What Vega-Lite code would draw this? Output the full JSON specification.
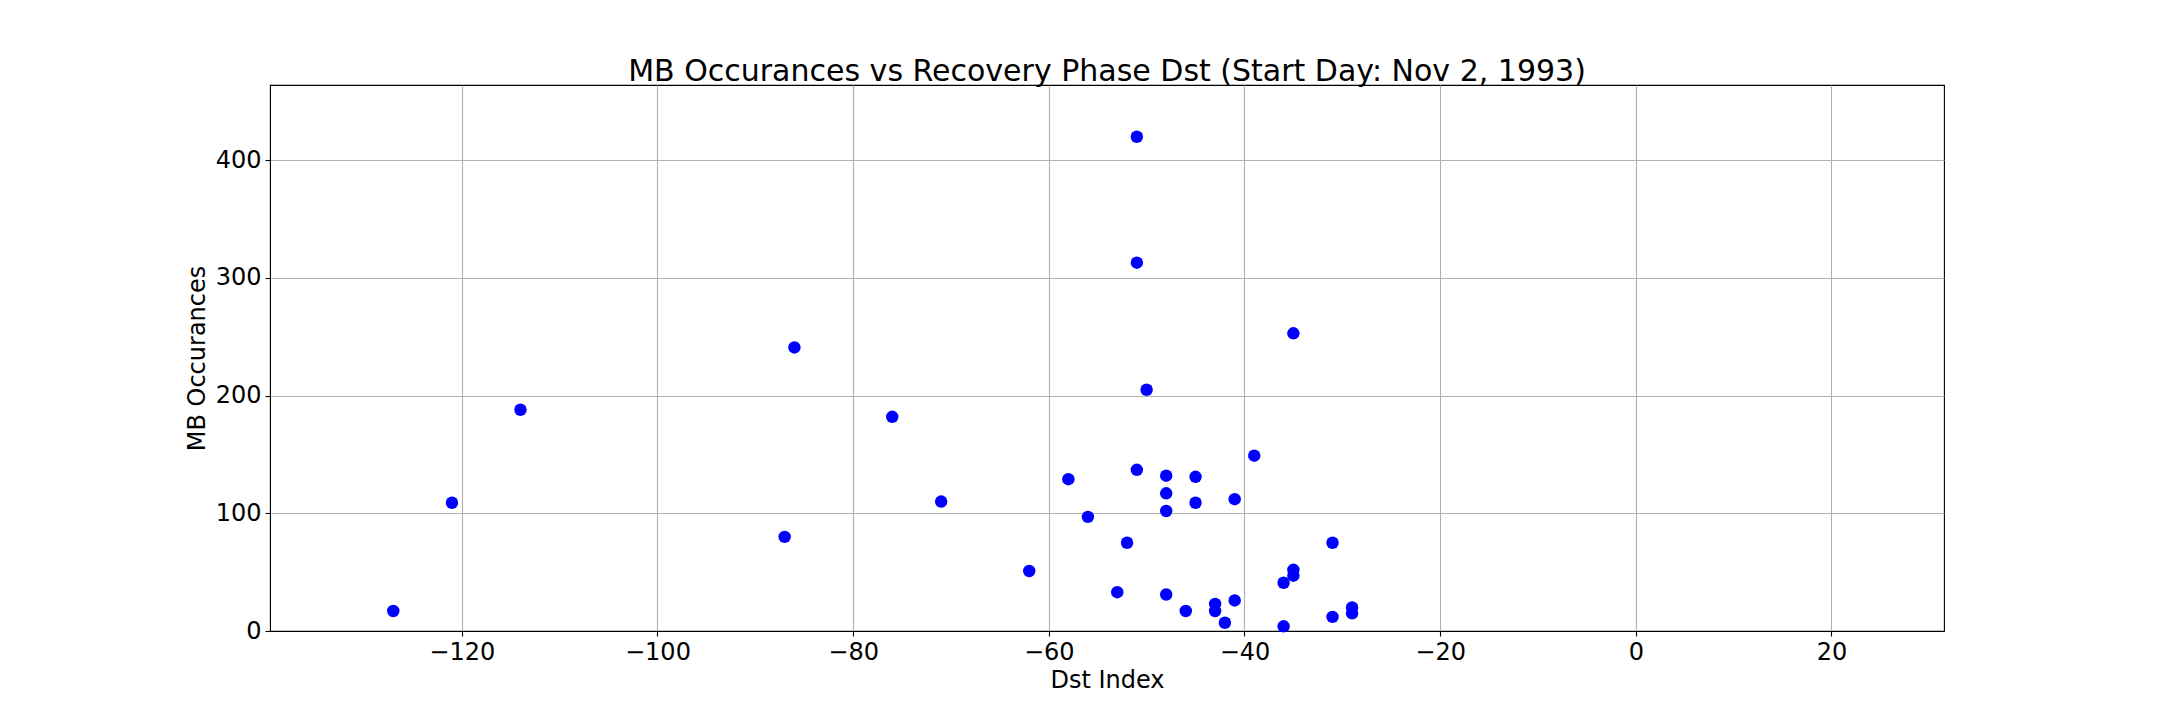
{
  "$schema": "https://vega.github.io/schema/vega-lite/v6.json",
  "autosize": {"type": "none"},
  "width": 1674,
  "height": 546,
  "padding": {"left": 270, "top": 85, "right": 216, "bottom": 89},
  "background": "white",
  "title": {
    "text": "MB Occurances vs Recovery Phase Dst (Start Day: Nov 2, 1993)",
    "font": "DejaVu Sans",
    "fontSize": 30,
    "fontWeight": "normal",
    "color": "black",
    "anchor": "middle",
    "baseline": "alphabetic",
    "offset": 10,
    "dy": 36
  },
  "config": {
    "view": {"stroke": "black", "strokeWidth": 1.1},
    "axis": {
      "labelFont": "DejaVu Sans",
      "titleFont": "DejaVu Sans",
      "labelFontSize": 24,
      "titleFontSize": 24,
      "titleFontWeight": "normal",
      "labelColor": "black",
      "titleColor": "black",
      "domainColor": "black",
      "tickColor": "black",
      "tickSize": 5,
      "tickWidth": 1.1,
      "gridColor": "#b0b0b0",
      "gridWidth": 1.1,
      "gridOpacity": 1,
      "labelPadding": 4
    }
  },
  "data": {
    "values": [
      {"dst": -127, "mb": 17},
      {"dst": -121, "mb": 109},
      {"dst": -114, "mb": 188},
      {"dst": -87, "mb": 80},
      {"dst": -86, "mb": 241},
      {"dst": -76, "mb": 182},
      {"dst": -71, "mb": 110},
      {"dst": -62, "mb": 51},
      {"dst": -58, "mb": 129},
      {"dst": -56, "mb": 97},
      {"dst": -53, "mb": 33},
      {"dst": -52, "mb": 75},
      {"dst": -51, "mb": 420},
      {"dst": -51, "mb": 313},
      {"dst": -51, "mb": 137},
      {"dst": -50, "mb": 205},
      {"dst": -48, "mb": 132},
      {"dst": -48, "mb": 117},
      {"dst": -48, "mb": 102},
      {"dst": -48, "mb": 31},
      {"dst": -46, "mb": 17},
      {"dst": -45, "mb": 131},
      {"dst": -45, "mb": 109},
      {"dst": -43, "mb": 23},
      {"dst": -43, "mb": 17},
      {"dst": -42, "mb": 7},
      {"dst": -41, "mb": 112},
      {"dst": -41, "mb": 26},
      {"dst": -39, "mb": 149},
      {"dst": -36, "mb": 41},
      {"dst": -36, "mb": 4},
      {"dst": -35, "mb": 253},
      {"dst": -35, "mb": 52},
      {"dst": -35, "mb": 47},
      {"dst": -31, "mb": 75},
      {"dst": -31, "mb": 12},
      {"dst": -29, "mb": 20},
      {"dst": -29, "mb": 15}
    ]
  },
  "mark": {"type": "point", "filled": true, "shape": "circle", "size": 155, "color": "#0000ff", "opacity": 1},
  "encoding": {
    "x": {
      "field": "dst",
      "type": "quantitative",
      "title": "Dst Index",
      "scale": {"domain": [-139.6, 31.5], "nice": false, "zero": false},
      "axis": {"values": [-120, -100, -80, -60, -40, -20, 0, 20], "titlePadding": 4}
    },
    "y": {
      "field": "mb",
      "type": "quantitative",
      "title": "MB Occurances",
      "scale": {"domain": [0, 464], "nice": false, "zero": false},
      "axis": {"values": [0, 100, 200, 300, 400], "titlePadding": 6}
    }
  }
}
